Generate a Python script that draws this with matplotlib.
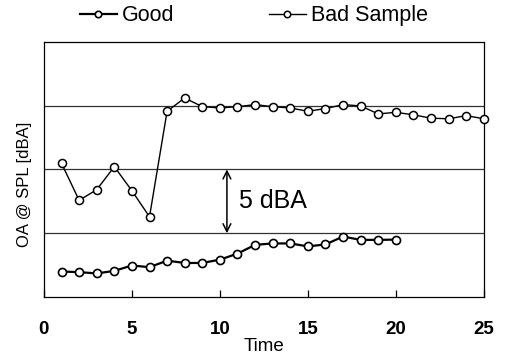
import numpy as np
import matplotlib
matplotlib.use("Agg")
import matplotlib.pyplot as plt

plt.rcParams['font.family'] = ['Liberation Sans', 'DejaVu Sans']

# --- data ---
time_good = list(range(1, 21))
oa_good = [2.0, 1.95, 1.85, 2.05, 2.47, 2.34, 2.85, 2.67, 2.67, 2.93,
           3.40, 4.09, 4.2, 4.2, 3.97, 4.12, 4.74, 4.48, 4.48, 4.5]

time_bad = list(range(1, 26))
oa_bad = [10.48, 7.58, 8.41, 10.22, 8.33, 6.29, 14.56, 15.6, 14.92, 14.82,
          14.92, 15.08, 14.92, 14.82, 14.56, 14.77, 15.08, 14.98, 14.35, 14.48,
          14.28, 14.02, 13.97, 14.22, 13.97]

grid_levels = [5, 10, 15]
x_ticks = [0, 5, 10, 15, 20, 25]

# --- figure ---
fig = plt.figure(figsize=(5.05, 3.64), dpi=100)
ax = fig.add_axes([0.087, 0.184, 0.871, 0.701])

for g in grid_levels:
    ax.axhline(g, color='#333333', lw=0.9, zorder=1)

ax.plot(time_good, oa_good, '-o', color='black', lw=1.6, ms=5.8,
        mfc='white', mec='black', mew=1.2, label='Good', zorder=3, clip_on=False)
ax.plot(time_bad, oa_bad, '-o', color='black', lw=1.0, ms=5.8,
        mfc='white', mec='black', mew=1.1, label='Bad Sample', zorder=3, clip_on=False)

# 5 dBA span marker
ax.annotate('', xy=(10.4, 10), xytext=(10.4, 5),
            arrowprops=dict(arrowstyle='<->', color='black', lw=1.1,
                            mutation_scale=14, shrinkA=0, shrinkB=0))
ax.text(11.1, 7.5, '5 dBA', fontsize=18, va='center', ha='left')

ax.set_xlim(0, 25)
ax.set_ylim(0, 20)
ax.set_xticks(x_ticks)
ax.set_xticklabels([str(t) for t in x_ticks], fontsize=13.5, fontweight='bold')
ax.set_yticks([])
ax.tick_params(axis='x', direction='in', length=5, width=0.9, pad=17)
for s in ax.spines.values():
    s.set_linewidth(0.9)

ax.set_xlabel('Time', fontsize=13.5, labelpad=0)
ax.set_ylabel('OA @ SPL [dBA]', fontsize=12)
ax.yaxis.set_label_coords(-0.027, 0.44)

fig.legend(loc='center', bbox_to_anchor=(0.503, 0.957), ncol=2, frameon=False,
           fontsize=15.5, handlelength=1.7, handletextpad=0.25, columnspacing=4.4,
           markerscale=0.8)

fig.savefig('out.png', dpi=100)
